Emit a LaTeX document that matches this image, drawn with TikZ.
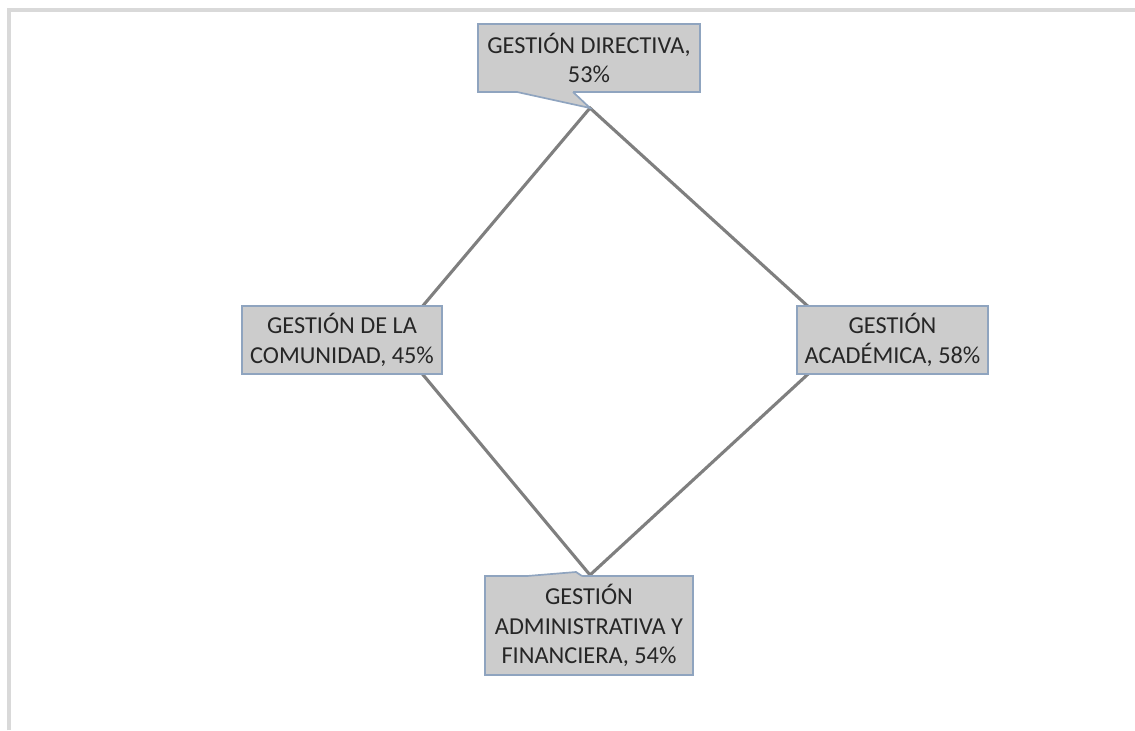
\documentclass[tikz,border=0pt]{standalone}
\usepackage{fontspec}
\setmainfont{Carlito}
\usetikzlibrary{positioning}
\definecolor{boxfill}{HTML}{CCCCCC}
\definecolor{boxedge}{HTML}{8FA4BF}
\definecolor{webline}{HTML}{7F7F7F}
\definecolor{framegray}{HTML}{D9D9D9}

\begin{document}
\begin{tikzpicture}[x=0.025cm,y=-0.025cm,
    lbl/.style={rectangle,fill=boxfill,draw=boxedge,line width=1.2pt,align=center,
      inner sep=0pt,font=\fontsize{17.3}{21}\selectfont,text=black!85},
    web/.style={draw=webline,line width=2.2pt}]

  \useasboundingbox (0,0) rectangle (1135,730);
  \draw[framegray,line width=2.2pt] (9,730) -- (9,10) -- (1135,10);

  % corners of the web
  \coordinate (dir) at (590,108);
  \coordinate (aca) at (845,340);
  \coordinate (adm) at (590,575);
  \coordinate (com) at (394,340);

  \path[web] (dir) -- (aca) -- (adm) -- (com) -- cycle;

  % labels
  \node[lbl,minimum width=5.55cm,minimum height=1.7cm] (ldir) at (589,58) {GESTIÓN DIRECTIVA,\\53\%};
  \node[lbl,minimum width=5cm,minimum height=1.7cm] (lcom) at (342,340) {GESTIÓN DE LA\\COMUNIDAD, 45\%};
  \node[lbl,minimum width=4.78cm,minimum height=1.7cm] (laca) at (892.5,340) {GESTIÓN\\ACADÉMICA, 58\%};
  \node[lbl,minimum width=5.2cm,minimum height=2.48cm] (ladm) at (589,625.5) {GESTIÓN\\ADMINISTRATIVA Y\\FINANCIERA, 54\%};

  % callout tips
  \fill[boxfill] (517,89) -- (517,92) -- (dir) -- (573,92) -- (573,89) -- cycle;
  \draw[boxedge,line width=1.2pt] (517,92) -- (dir) -- (573,92);
  \coordinate (admtip) at (576,572);
  \fill[boxfill] (527,579) -- (527,576) -- (admtip) -- (582,576) -- (582,579) -- cycle;
  \draw[boxedge,line width=1.2pt] (527,576) -- (admtip) -- (582,576);

\end{tikzpicture}
\end{document}
